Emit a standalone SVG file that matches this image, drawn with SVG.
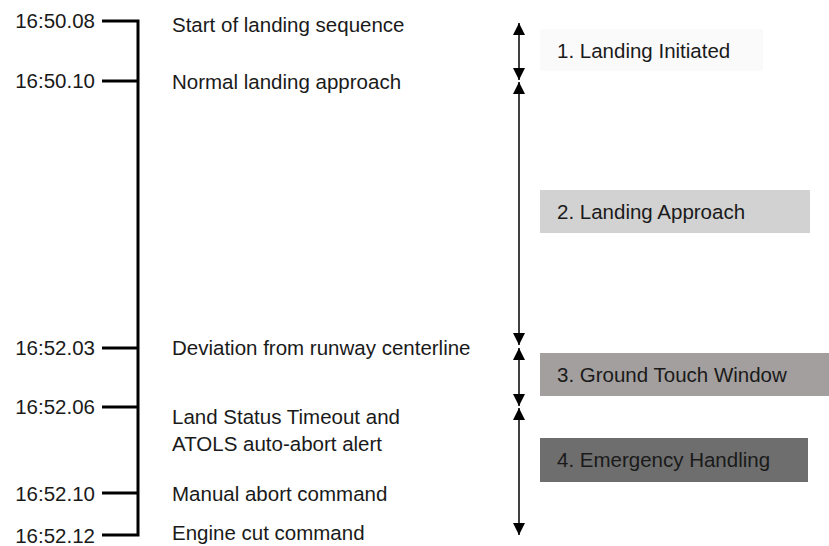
<svg xmlns="http://www.w3.org/2000/svg" width="829" height="546" viewBox="0 0 829 546">
<style>
text{font-family:"Liberation Sans",Arial,sans-serif;font-size:20.5px;fill:#1a1a1a}
.t{text-anchor:end}
.axis{stroke:#000;stroke-width:3;fill:none}
.arr{stroke:#000;stroke-width:1.5;fill:none;marker-start:url(#ah);marker-end:url(#ah)}
</style>
<defs>
<marker id="ah" viewBox="0 0 12 12" refX="12" refY="6" markerWidth="12" markerHeight="12" markerUnits="userSpaceOnUse" orient="auto-start-reverse">
<path d="M0,0 L12,6 L0,12 Z" fill="#000"/>
</marker>
</defs>
<g id="timeline">
<path class="axis" d="M102,21 H138 V535 H102 M102,81 H138 M102,348 H138 M102,407 H138 M102,493 H138"/>
</g>
<g id="t1"><text class="t" x="95" y="28">16:50.08</text><text x="172" y="32">Start of landing sequence</text></g>
<g id="t2"><text class="t" x="95" y="88">16:50.10</text><text x="172" y="89">Normal landing approach</text></g>
<g id="t3"><text class="t" x="95" y="355">16:52.03</text><text x="172" y="355">Deviation from runway centerline</text></g>
<g id="t4"><text class="t" x="95" y="414">16:52.06</text><text x="172" y="424">Land Status Timeout and</text><text x="172" y="451">ATOLS auto-abort alert</text></g>
<g id="t5"><text class="t" x="95" y="501">16:52.10</text><text x="172" y="501">Manual abort command</text></g>
<g id="t6"><text class="t" x="95" y="543">16:52.12</text><text x="172" y="540">Engine cut command</text></g>
<g id="connectors">
<line class="arr" x1="519" y1="23" x2="519" y2="80"/>
<line class="arr" x1="519" y1="82" x2="519" y2="345"/>
<line class="arr" x1="519" y1="348" x2="519" y2="406"/>
<line class="arr" x1="519" y1="408" x2="519" y2="535"/>
</g>
<g id="phase1"><rect x="540" y="29" width="223" height="42" fill="#fafafa"/><text x="557" y="58">1. Landing Initiated</text></g>
<g id="phase2"><rect x="540" y="190" width="270" height="43" fill="#d2d2d2"/><text x="557" y="219">2. Landing Approach</text></g>
<g id="phase3"><rect x="540" y="353" width="289" height="43" fill="#a39f9e"/><text x="557" y="382">3. Ground Touch Window</text></g>
<g id="phase4"><rect x="540" y="438" width="268" height="44" fill="#6e6e6e"/><text x="557" y="467">4. Emergency Handling</text></g>
</svg>
